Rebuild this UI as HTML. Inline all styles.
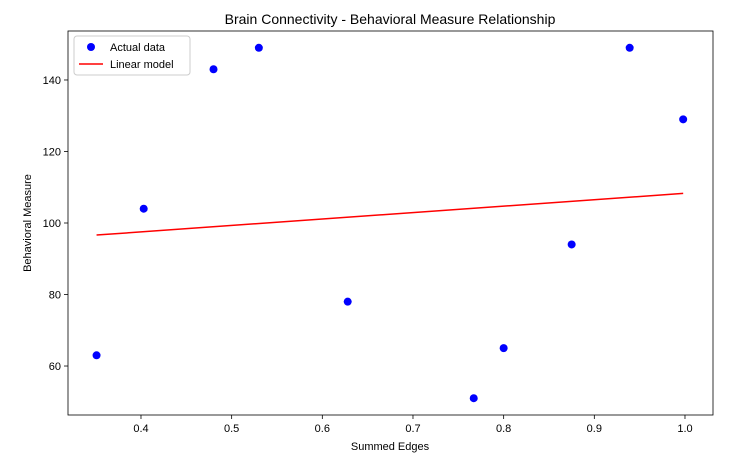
<!DOCTYPE html>
<html><head><meta charset="utf-8"><style>
body{margin:0;background:#fff;}
svg{display:block;font-family:"Liberation Sans","DejaVu Sans",sans-serif;}
</style></head><body>
<svg id="chart" width="750" height="467"></svg>
<script>
const xValues=[0.351,0.403,0.480,0.530,0.628,0.767,0.800,0.875,0.939,0.998];
const yValues=[63,104,143,149,78,51,65,94,149,129];
const xTicks=[0.4,0.5,0.6,0.7,0.8,0.9,1.0];
const xTickLabels=["0.4","0.5","0.6","0.7","0.8","0.9","1.0"];
const yTicks=[60,80,100,120,140];
const yTickLabels=["60","80","100","120","140"];

const L=68,R=713,T=31,B=415;
const xMin=0.3195,xMax=1.0309,yMin=46.3,yMax=153.7;
const sx=v=>L+(v-xMin)/(xMax-xMin)*(R-L);
const sy=v=>B-(v-yMin)/(yMax-yMin)*(B-T);
const svg=document.getElementById('chart');
const NS='http://www.w3.org/2000/svg';
function mk(tag,attrs,parent){const e=document.createElementNS(NS,tag);for(const k in attrs)e.setAttribute(k,attrs[k]);(parent||svg).appendChild(e);return e;}

// title
let t=mk('text',{x:390,y:24,'text-anchor':'middle','font-size':14,fill:'#000'});
t.textContent='Brain Connectivity - Behavioral Measure Relationship';



// ticks
xTicks.forEach((v,i)=>{
  const x=sx(v);
  const tk=mk('line',{x1:x,x2:x,y1:B,y2:B+4,stroke:'#000','stroke-width':0.8});
  
  
  const lb=mk('text',{x:x,y:B+17,'text-anchor':'middle','font-size':11,fill:'#000'});
  lb.textContent=xTickLabels[i];
  
  
});
yTicks.forEach((v,i)=>{
  const y=sy(v);
  const tk=mk('line',{x1:L-4,x2:L,y1:y,y2:y,stroke:'#000','stroke-width':0.8});
  
  
  const lb=mk('text',{x:L-7,y:y+4,'text-anchor':'end','font-size':11,fill:'#000'});
  lb.textContent=yTickLabels[i];
  
  
});

// axis labels
let xl=mk('text',{x:390,y:450,'text-anchor':'middle','font-size':11,fill:'#000'});
xl.textContent='Summed Edges';


let yl=mk('text',{x:31,y:223,'text-anchor':'middle','font-size':11,fill:'#000',transform:'rotate(-90 31 223)'});
yl.textContent='Behavioral Measure';



// points
xValues.forEach((v,i)=>{
  const c=mk('circle',{cx:sx(v),cy:sy(yValues[i]),r:4,fill:'#0000ff'});
  
  
});

// regression line
const n=xValues.length;
const mx=xValues.reduce((a,b)=>a+b,0)/n, my=yValues.reduce((a,b)=>a+b,0)/n;
let sxy=0,sxx=0;
for(let i=0;i<n;i++){sxy+=(xValues[i]-mx)*(yValues[i]-my);sxx+=(xValues[i]-mx)**2;}
const slope=sxy/sxx, icpt=my-slope*mx;
const x0=Math.min(...xValues), x1=Math.max(...xValues);
const ln=mk('line',{x1:sx(x0),y1:sy(icpt+slope*x0),x2:sx(x1),y2:sy(icpt+slope*x1),stroke:'#ff0000','stroke-width':1.5});



// frame
const fr=mk('rect',{x:L,y:T,width:R-L,height:B-T,fill:'none',stroke:'#000','stroke-width':0.8});



// legend
const lg=mk('g',{});


mk('rect',{x:74,y:36,width:116,height:39,rx:3,fill:'#fff',stroke:'#ccc','stroke-width':1},lg);
const e1=mk('g',{},lg);


mk('circle',{cx:91,cy:47,r:4,fill:'#0000ff'},e1);
const t1=mk('text',{x:110,y:51,'font-size':11,fill:'#000'},e1);t1.textContent='Actual data';
const e2=mk('g',{},lg);


mk('line',{x1:79,x2:103,y1:64,y2:64,stroke:'#ff0000','stroke-width':1.5},e2);
const t2=mk('text',{x:110,y:68,'font-size':11,fill:'#000'},e2);t2.textContent='Linear model';
</script>
</body></html>
